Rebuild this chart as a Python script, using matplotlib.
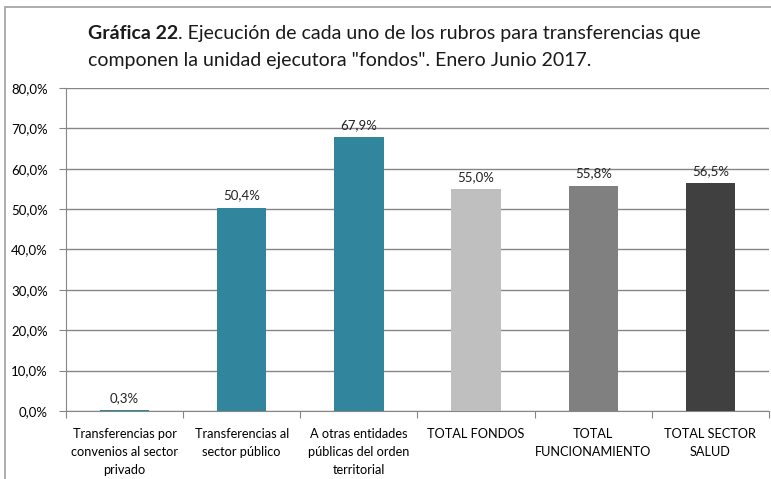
import numpy as np
import matplotlib
matplotlib.use("Agg")
from matplotlib import pyplot as plt
from matplotlib.patches import Rectangle

categories = ["Transferencias por\nconvenios al sector\nprivado",
              "Transferencias al\nsector público",
              "A otras entidades\npúblicas del orden\nterritorial",
              "TOTAL FONDOS",
              "TOTAL\nFUNCIONAMIENTO",
              "TOTAL SECTOR\nSALUD"]
values = [0.3, 50.4, 67.9, 55.0, 55.8, 56.5]
colors = ["#31859C", "#31859C", "#31859C", "#BFBFBF", "#808080", "#404040"]

plt.rcParams['font.family'] = ['Lato', 'DejaVu Sans']

fig = plt.figure(figsize=(7.71, 4.79), dpi=100)
W, H = 771, 479
ax = fig.add_axes([66 / W, 1 - 411 / H, (769 - 66) / W, (411 - 88) / H])

x = np.arange(len(values))
ax.bar(x, values, width=0.42, color=colors, zorder=3)
for xi, v in zip(x, values):
    ax.text(xi, v + 1.5, f"{v:.1f}%".replace(".", ","), ha="center", va="bottom",
            fontsize=9.5, color="#222222")

ax.set_xlim(-0.5, len(values) - 0.5)
ax.set_ylim(0, 80)
ax.set_yticks(np.arange(0, 81, 10))
ax.set_yticklabels([f"{t:.1f}%".replace(".", ",") for t in np.arange(0, 81, 10)],
                   fontsize=9.5)
ax.set_xticks(np.arange(-0.5, len(values), 1), minor=False)
ax.set_xticklabels([])
ax.set_xticks(x, minor=True)
ax.set_xticklabels(categories, minor=True, fontsize=9.2, linespacing=1.6)
ax.tick_params(axis="x", which="minor", length=0, pad=12)
ax.tick_params(axis="x", which="major", length=5, color="#868686", direction="out")
ax.tick_params(axis="y", length=5, color="#868686", pad=8)

ax.yaxis.grid(True, color="#868686", linewidth=1, zorder=0)
for s in ["top", "right"]:
    ax.spines[s].set_visible(False)
ax.spines["left"].set_color("#868686")
ax.spines["bottom"].set_color("#868686")

# outer frame
fig.patches.append(Rectangle((5 / W, -0.1), 1.2, (1 - 7 / H) + 0.1, transform=fig.transFigure,
                             fill=False, edgecolor="#A0A0A0", linewidth=1.2))

t1 = fig.text(88 / W, 1 - 39 / H, "Gráfica 22", fontsize=14, fontweight="bold",
              color="#1a1a1a")
fig.canvas.draw()
bb = t1.get_window_extent()
fig.text(bb.x1 / W, 1 - 39 / H, ". Ejecución de cada uno de los rubros para transferencias que",
         fontsize=14, color="#1a1a1a")
fig.text(88 / W, 1 - 66 / H, "componen la unidad ejecutora \"fondos\". Enero Junio 2017.",
         fontsize=14, color="#1a1a1a")

fig.savefig("out.png", dpi=100)
